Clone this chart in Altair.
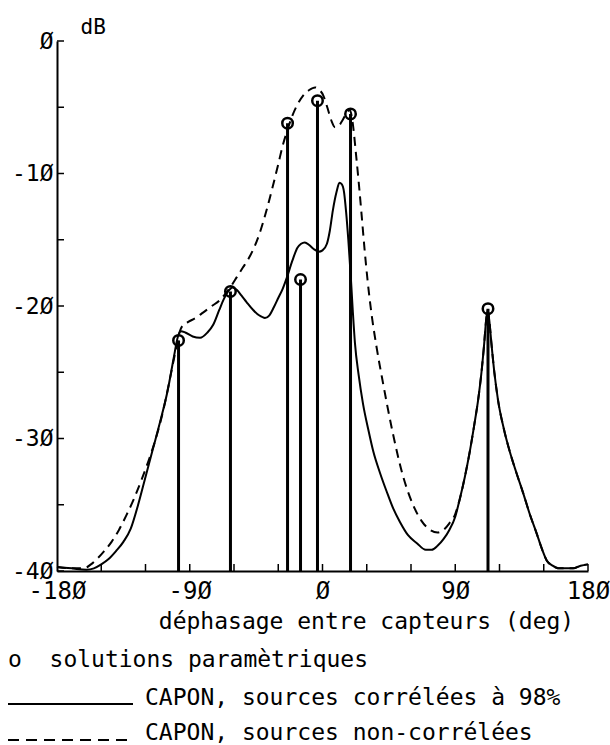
import altair as alt
import pandas as pd

# Spectre de Capon, sources corrélées à 98 %
solid_deg = [-180, -170, -160, -155, -150, -145, -140, -135, -130, -125, -120, -115,
             -110, -105, -101, -98, -96, -93, -88, -83, -78, -74, -70, -67, -64, -61,
             -58, -55, -51.5, -47, -43, -39, -36, -33, -30, -27, -24, -20.5, -17,
             -14.5, -12, -9, -6, -2.5, 0, 3, 5, 7, 9.5, 11.5, 13, 14.6, 16, 17.5, 19,
             20.5, 22, 24.5, 27.5, 31, 34.5, 39, 43.5, 48, 52.5, 58, 64, 70, 74, 78,
             82, 86, 90, 93, 96.5, 100, 103, 105.5, 107.5, 109.5, 111, 112, 113, 114.5,
             116.5, 119, 123, 127, 131.5, 136, 140.5, 145, 149, 152, 156, 160, 170,
             175, 180]
solid_db = [-39.7, -39.8, -39.9, -39.8, -39.5, -39.1, -38.5, -37.8, -36.8, -35.0, -32.9,
            -30.8, -28.7, -26.4, -24.0, -22.3, -21.9, -22.0, -22.3, -22.4, -22.0, -21.4,
            -20.3, -19.5, -18.9, -18.6, -18.8, -19.2, -19.7, -20.3, -20.7, -20.9, -20.7,
            -20.1, -19.4, -18.7, -17.8, -16.6, -15.6, -15.3, -15.2, -15.4, -15.7, -15.9,
            -15.8, -15.3, -14.3, -12.8, -11.4, -10.7, -10.8, -11.4, -12.9, -15.0, -17.5,
            -20.3, -22.8, -25.2, -27.4, -29.3, -31.0, -32.6, -34.0, -35.3, -36.3, -37.3,
            -37.9, -38.4, -38.4, -38.1, -37.6, -36.9, -35.9, -34.6, -32.9, -30.9, -28.9,
            -27.1, -25.3, -23.0, -21.0, -20.3, -21.0, -22.8, -25.0, -27.1, -29.3, -31.0,
            -32.6, -34.1, -35.7, -37.1, -38.4, -39.2, -39.6, -39.8, -39.8, -39.6, -39.5]

# Spectre de Capon, sources non corrélées
dashed_deg = [-180, -170, -162, -157, -153, -148, -143, -138, -133, -128, -123, -118,
              -113, -108, -104, -100, -97, -95, -91, -86, -81, -75, -70, -66, -62, -58,
              -54, -50, -46, -42, -38, -34, -30, -27, -24, -21, -17, -13, -9, -5, -2,
              0.5, 3.5, 6, 8.5, 11, 13.5, 16, 18.5, 20.5, 22.5, 24.5, 26.5, 28.5, 30.5,
              33, 36.5, 41, 47.5, 54.5, 61, 67, 73, 78, 82, 86, 90, 93, 96.5, 100, 103,
              105.5, 107.5, 109.5, 111, 112, 113, 114.5, 116.5, 119, 123, 127, 131.5,
              136, 140.5, 145, 149, 152, 156, 160, 170, 175, 180]
dashed_db = [-39.7, -39.8, -39.8, -39.5, -39.1, -38.5, -37.8, -36.9, -35.8, -34.6, -33.2,
             -31.7, -30.0, -27.9, -25.8, -23.6, -22.0, -21.5, -21.2, -20.9, -20.5, -20.0,
             -19.6, -19.1, -18.5, -17.8, -17.1, -16.4, -15.5, -14.3, -12.8, -11.1, -9.3,
             -7.9, -6.8, -5.8, -4.8, -4.1, -3.7, -3.5, -3.7, -4.1, -5.1, -6.0, -6.5, -6.4,
             -6.0, -5.5, -5.2, -6.2, -8.3, -10.6, -13.1, -15.7, -18.0, -20.4, -23.0, -25.8,
             -29.5, -32.8, -34.9, -36.2, -36.9, -37.1, -36.9, -36.4, -35.7, -34.6, -32.9,
             -30.9, -28.9, -27.1, -25.3, -23.0, -21.0, -20.3, -21.0, -22.8, -25.0, -27.1,
             -29.3, -31.0, -32.6, -34.1, -35.7, -37.1, -38.4, -39.2, -39.6, -39.8, -39.8,
             -39.6, -39.5]

# Solutions paramétriques
sol_deg = [-97.6, -62.4, -23.7, -14.9, -3.4, 19.0, 112.2]
sol_db = [-22.6, -18.9, -6.2, -18.0, -4.5, -5.5, -20.2]

# Graduations
x_label_values = [-180, -90, 0, 90, 180]
y_label_values = [-40, -30, -20, -10, 0]
x_tick_values = [-150, -120, -90, -60, -30, 0, 30, 60, 90, 120, 150, 180]
y_tick_values = [0, -5, -10, -15, -20, -25, -30, -35, -40]

FONT = "DejaVu Sans Mono"
W, H = 531, 530
LEFT, TOP = 57, 41

solid_df = pd.DataFrame({"deg": solid_deg, "db": solid_db})
dashed_df = pd.DataFrame({"deg": dashed_deg, "db": dashed_db})
sol_df = pd.DataFrame({"deg": sol_deg, "db": sol_db})

xs = alt.Scale(domain=[-180, 180], nice=False, zero=False)
ys = alt.Scale(domain=[-40, 0], nice=False, zero=False)

# zero drawn slashed, minus as a plain hyphen
label_expr = "(datum.value < 0 ? '-' : '') + replace('' + abs(datum.value), '0', 'Ø')"

x_axis = alt.Axis(
    values=x_label_values, labelExpr=label_expr, ticks=False, grid=False,
    domainColor="black", domainWidth=2, labelFont=FONT, labelFontSize=24,
    labelColor="black", labelPadding=8, labelFlush=False, labelOverlap=False,
    labelBound=False, labelBaseline="top",
    title="déphasage entre capteurs (deg)", titleFont=FONT, titleFontSize=23,
    titleFontWeight="normal", titleColor="black", titleX=309, titleY=57,
    titleAlign="center", titleBaseline="alphabetic",
)
y_axis = alt.Axis(
    values=y_label_values, labelExpr=label_expr, ticks=False, grid=False,
    domainColor="black", domainWidth=2, labelFont=FONT, labelFontSize=23,
    labelColor="black", labelPadding=4, labelFlush=False, labelOverlap=False,
    labelBound=False,
    title="dB", titleFont=FONT, titleFontSize=21, titleFontWeight="normal",
    titleColor="black", titleAngle=0, titleX=23, titleY=-8,
    titleAlign="left", titleBaseline="alphabetic",
)

solid = alt.Chart(solid_df).mark_line(
    color="black", strokeWidth=2, interpolate="monotone"
).encode(
    x=alt.X("deg:Q", scale=xs, axis=x_axis),
    y=alt.Y("db:Q", scale=ys, axis=y_axis),
)

dashed = alt.Chart(dashed_df).mark_line(
    color="black", strokeWidth=2, interpolate="monotone", strokeDash=[9, 6]
).encode(
    x=alt.X("deg:Q", scale=xs, axis=None),
    y=alt.Y("db:Q", scale=ys, axis=None),
)

stems = alt.Chart(sol_df).mark_rule(color="black", strokeWidth=3).encode(
    x=alt.X("deg:Q", scale=xs, axis=None),
    y=alt.Y("db:Q", scale=ys, axis=None),
    y2=alt.datum(-40),
)

circles = alt.Chart(sol_df).mark_point(
    shape="circle", filled=False, size=110, strokeWidth=2.5, color="black", opacity=1
).encode(
    x=alt.X("deg:Q", scale=xs, axis=None),
    y=alt.Y("db:Q", scale=ys, axis=None),
)

# inward tick marks
x_ticks = alt.Chart(pd.DataFrame({"t": x_tick_values})).mark_rule(
    color="black", strokeWidth=1.5
).encode(
    x=alt.X("t:Q", scale=xs, axis=None),
    y=alt.value(H),
    y2=alt.value(H - 7),
)
y_ticks = alt.Chart(pd.DataFrame({"t": y_tick_values})).mark_rule(
    color="black", strokeWidth=1.5
).encode(
    y=alt.Y("t:Q", scale=ys, axis=None),
    x=alt.value(0),
    x2=alt.value(7),
)


def legend_text(text, x, y):
    return alt.Chart(pd.DataFrame({"label": [text]})).mark_text(
        font=FONT, fontSize=23, color="black", align="left", baseline="alphabetic"
    ).encode(text="label:N", x=alt.value(x), y=alt.value(y))


def legend_line(y, dash=None):
    kwargs = {"color": "black", "strokeWidth": 1.8}
    if dash:
        kwargs["strokeDash"] = dash
    return alt.Chart(pd.DataFrame({"k": [0]})).mark_rule(**kwargs).encode(
        x=alt.value(8 - LEFT), x2=alt.value(133 - LEFT), y=alt.value(y)
    )


legend = [
    legend_text("o\u00a0\u00a0solutions paramètriques", 8 - LEFT, 667 - TOP),
    legend_line(704 - TOP),
    legend_text("CAPON, sources corrélées à 98%", 145 - LEFT, 705 - TOP),
    legend_line(740 - TOP, dash=[11, 7]),
    legend_text("CAPON, sources non-corrélées", 145 - LEFT, 740 - TOP),
]

chart = alt.layer(
    solid, dashed, stems, circles, x_ticks, y_ticks, *legend
).resolve_axis(
    x="independent", y="independent"
).properties(
    width=W,
    height=H,
    autosize=alt.AutoSizeParams(type="none"),
    padding={"left": LEFT, "top": TOP, "right": 610 - LEFT - W, "bottom": 745 - TOP - H},
    background="white",
).configure_view(stroke=None)

chart.save("out.html", embed_options={"renderer": "svg", "actions": False})
